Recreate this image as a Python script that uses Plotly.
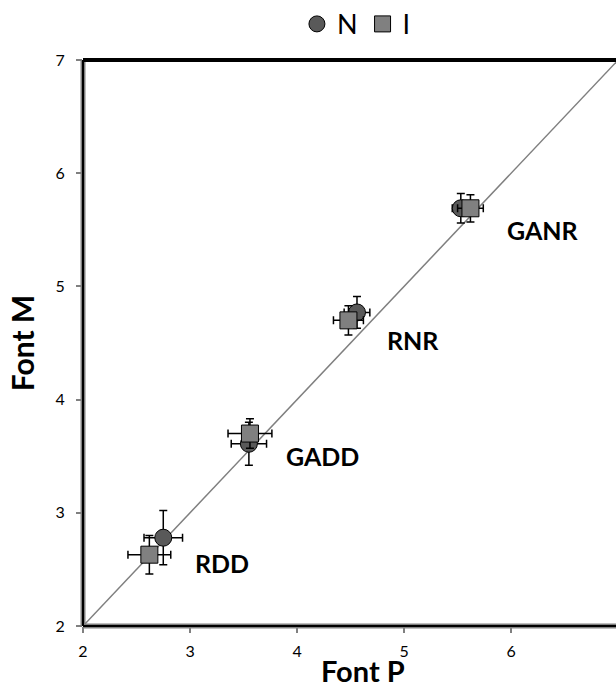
import plotly.graph_objects as go

# Conditions and their scores (P on x, M on y) with standard errors
conditions = ["RDD", "GADD", "RNR", "GANR"]

n_p = [2.75, 3.55, 4.56, 5.53]
n_m = [2.78, 3.61, 4.77, 5.69]
n_p_err = [0.18, 0.165, 0.12, 0.08]
n_m_err = [0.24, 0.19, 0.14, 0.13]

i_p = [2.62, 3.56, 4.48, 5.62]
i_m = [2.63, 3.70, 4.70, 5.69]
i_p_err = [0.20, 0.205, 0.14, 0.12]
i_m_err = [0.17, 0.13, 0.13, 0.12]

label_x = [3.30, 4.24, 5.08, 6.30]
label_y = [2.56, 3.50, 4.53, 5.50]

axis_min, axis_max = 2, 7
x_visible_max = 6.98
ticks = [2, 3, 4, 5, 6, 7]

FONT = "Lato"
PLOT_H = 693 - 60 - 67
PLOT_W = 616 - 83

fig = go.Figure()

# identity line
fig.add_trace(go.Scatter(
    x=[axis_min, axis_max], y=[axis_min, axis_max], mode="lines",
    line=dict(color="#7f7f7f", width=1.5), showlegend=False, hoverinfo="skip"))

err_style = dict(color="black", thickness=1.5, width=4)

fig.add_trace(go.Scatter(
    x=n_p, y=n_m, mode="markers", name="N", showlegend=False,
    marker=dict(symbol="circle", size=17, color="#595959",
                line=dict(color="black", width=1)),
    error_x=dict(type="data", array=n_p_err, **err_style),
    error_y=dict(type="data", array=n_m_err, **err_style)))

fig.add_trace(go.Scatter(
    x=i_p, y=i_m, mode="markers", name="I", showlegend=False,
    marker=dict(symbol="square", size=17, color="#808080",
                line=dict(color="black", width=1)),
    error_x=dict(type="data", array=i_p_err, **err_style),
    error_y=dict(type="data", array=i_m_err, **err_style)))

# legend-only entries
fig.add_trace(go.Scatter(
    x=[None], y=[None], mode="markers", name="N",
    marker=dict(symbol="circle", size=17, color="#595959",
                line=dict(color="black", width=1))))
fig.add_trace(go.Scatter(
    x=[None], y=[None], mode="markers", name="I",
    marker=dict(symbol="square", size=16, color="#808080",
                line=dict(color="black", width=1))))

# last x tick label sits at the page edge, just past the visible range
fig.add_trace(go.Scatter(
    x=[ticks[-1]], y=[axis_min], mode="text", text=[str(ticks[-1])],
    textposition="bottom center", cliponaxis=False, showlegend=False,
    hoverinfo="skip", textfont=dict(family=FONT, size=16, color="black")))

for name, lx, ly in zip(conditions, label_x, label_y):
    fig.add_annotation(x=lx, y=ly, text=f"<b>{name}</b>", showarrow=False,
                       font=dict(family=FONT, size=25, color="black"))

# x-axis title, centred under the full P range
fig.add_annotation(x=(363 - 83) / PLOT_W, xref="paper", y=-45 / PLOT_H,
                   yref="paper", yanchor="middle", text="<b>Font P</b>",
                   showarrow=False,
                   font=dict(family=FONT, size=29, color="black"))

# frame: left and bottom double line, top solid black
frame = [
    dict(x0=0, x1=0, y0=0, y1=1, color="#808080", width=5),
    dict(x0=0, x1=1, y0=0, y1=0, color="#808080", width=5),
    dict(x0=0, x1=0, y0=0, y1=1, color="black", width=2),
    dict(x0=0, x1=1, y0=0, y1=0, color="black", width=2),
    dict(x0=0, x1=1, y0=1, y1=1, color="black", width=4),
]
for f in frame:
    fig.add_shape(type="line", xref="paper", yref="paper",
                  x0=f["x0"], x1=f["x1"], y0=f["y0"], y1=f["y1"],
                  line=dict(color=f["color"], width=f["width"]))

axis_common = dict(
    tickvals=ticks, ticks="outside", ticklen=6, tickwidth=1.5,
    tickcolor="#808080", showgrid=False, zeroline=False, showline=False,
    tickfont=dict(family=FONT, size=16, color="black"))

fig.update_xaxes(range=[axis_min, x_visible_max], ticklabelstandoff=5,
                 **axis_common)
fig.update_yaxes(range=[axis_min, axis_max], ticklabelstandoff=8,
                 title=dict(text="<b>Font M</b>", standoff=12,
                            font=dict(family=FONT, size=30, color="black")),
                 **axis_common)

fig.update_layout(
    width=616, height=693,
    margin=dict(l=83, r=0, t=60, b=67, autoexpand=False),
    plot_bgcolor="white", paper_bgcolor="white",
    legend=dict(orientation="h", x=0.513, xanchor="center", y=1.063,
                yanchor="middle", font=dict(family=FONT, size=27, color="black"),
                itemwidth=30, tracegroupgap=0),
)

fig.write_html("out.html")
